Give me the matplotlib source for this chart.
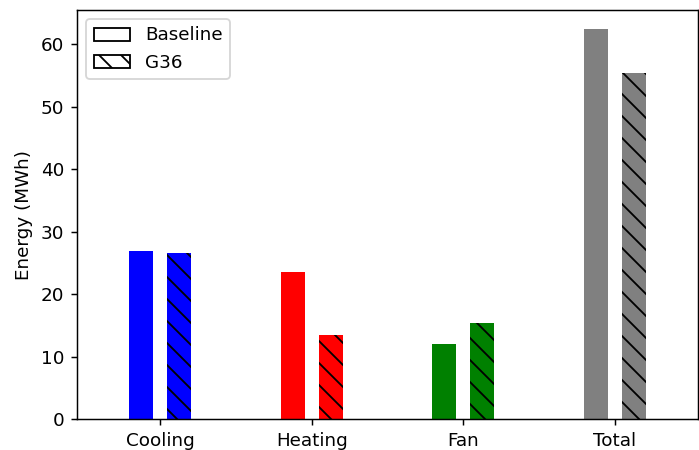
import numpy as np
import matplotlib.pyplot as plt
from matplotlib.patches import Patch

categories = ["Cooling", "Heating", "Fan", "Total"]
baseline = [26.9, 23.5, 12.0, 62.4]
g36 = [26.6, 13.4, 15.4, 55.4]
colors = ["blue", "red", "green", "gray"]

dpi = 132
fig = plt.figure(figsize=(699 / dpi, 450 / dpi), dpi=dpi)
ax = fig.add_axes([77 / 699, 31 / 450, 621 / 699, 409 / 450])

x = np.arange(len(categories))
width = 0.16
offset = 0.125

ax.bar(x - offset, baseline, width, color=colors)
ax.bar(x + offset, g36, width, color=colors, edgecolor="black", linewidth=0, hatch="\\\\")

ax.set_xticks(x)
ax.set_xticklabels(categories)
ax.set_xlim(-0.55, 3.55)
ax.set_ylabel("Energy (MWh)")

handles = [
    Patch(facecolor="white", edgecolor="black", label="Baseline"),
    Patch(facecolor="white", edgecolor="black", hatch="\\\\", label="G36"),
]
ax.legend(handles=handles, loc="upper left")

fig.savefig("out.png", dpi=dpi)
